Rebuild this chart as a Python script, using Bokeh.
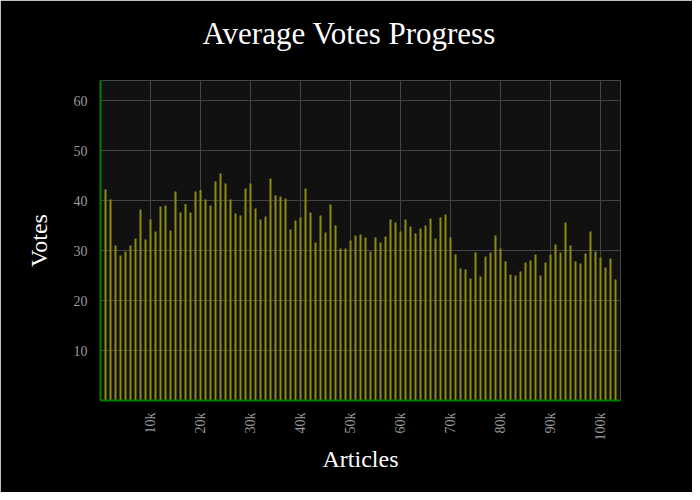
from bokeh.plotting import figure
from bokeh.models import FixedTicker, Range1d, Title
from bokeh.embed import file_html
from bokeh.resources import INLINE

# Average votes per 1k-article bucket
articles = list(range(1000, 104000, 1000))
votes = [42.2, 40.2, 31.0, 29.0, 29.8, 31.0, 32.4, 38.2, 32.2, 36.2,
         33.8, 38.8, 39.0, 34.0, 41.8, 37.6, 39.3, 37.6, 41.8, 42.1,
         40.2, 39.0, 43.8, 45.4, 43.4, 40.2, 37.4, 37.0, 42.4, 43.4,
         38.4, 36.2, 36.8, 44.4, 41.0, 40.8, 40.4, 34.2, 36.0, 36.6,
         42.4, 37.6, 31.6, 37.0, 33.6, 39.2, 35.0, 30.4, 30.4, 32.0,
         33.0, 33.2, 32.6, 29.8, 32.6, 31.6, 32.8, 36.2, 35.6, 33.8,
         36.2, 34.8, 33.4, 34.4, 35.0, 36.4, 32.4, 36.6, 37.2, 32.6,
         29.2, 26.4, 26.2, 24.4, 29.6, 24.8, 28.8, 29.6, 33.0, 30.4,
         27.8, 25.2, 25.0, 25.8, 27.6, 28.0, 29.2, 25.0, 27.6, 29.2,
         31.2, 29.6, 35.6, 31.0, 27.8, 27.4, 29.4, 33.8, 29.8, 28.6,
         26.6, 28.4, 24.2]

x_ticks = [10000, 20000, 30000, 40000, 50000, 60000, 70000, 80000, 90000, 100000]
x_tick_labels = ["10k", "20k", "30k", "40k", "50k", "60k", "70k", "80k", "90k", "100k"]
y_ticks = [10, 20, 30, 40, 50, 60]
title_text = "Average Votes Progress"

p = figure(width=692, height=492, output_backend="svg", toolbar_location=None,
           x_range=Range1d(0, 104000), y_range=Range1d(0, 64),
           min_border_left=100, min_border_right=72, min_border_top=80, min_border_bottom=92)

p.vbar(x=articles, top=votes, bottom=0, width=400,
       fill_color="#8c8c12", line_color=None)

# spacer between the frame and the title (added first, so it sits next to the frame)
spacer = Title(text=" ", text_font="Liberation Serif", text_font_size="10px",
               standoff=17, text_color="black")
p.add_layout(spacer, "above")

main_title = Title(text=title_text, align="left", offset=102, standoff=0,
                   text_font="Liberation Serif", text_font_size="31px",
                   text_font_style="normal", text_color="white")
p.add_layout(main_title, "above")

p.background_fill_color = "#111111"
p.border_fill_color = "black"
p.outline_line_color = None

p.xaxis.ticker = FixedTicker(ticks=x_ticks)
p.xaxis.major_label_overrides = {t: l for t, l in zip(x_ticks, x_tick_labels)}
p.xaxis.major_label_orientation = 1.5708
p.yaxis.ticker = FixedTicker(ticks=y_ticks)

for ax in (p.xaxis[0], p.yaxis[0]):
    ax.axis_line_color = "green"
    ax.axis_line_width = 2
    ax.major_tick_line_color = None
    ax.minor_tick_line_color = None
    ax.major_label_text_color = "#999999"
    ax.major_label_text_font = "Liberation Serif"
    ax.major_label_text_font_size = "14px"
    ax.axis_label_text_color = "white"
    ax.axis_label_text_font = "Liberation Serif"
    ax.axis_label_text_font_size = "24px"
    ax.axis_label_text_font_style = "normal"

p.xaxis.axis_label = "Articles"
p.yaxis.axis_label = "Votes"
p.xaxis.major_label_standoff = 6
p.yaxis.major_label_standoff = 7
p.xaxis.axis_label_standoff = 3
p.yaxis.axis_label_standoff = 19

p.xgrid.ticker = FixedTicker(ticks=x_ticks)
p.ygrid.ticker = FixedTicker(ticks=y_ticks)
p.grid.grid_line_color = "#444444"
p.grid.grid_line_width = 1

open("out.html", "w").write(file_html(p, INLINE))
